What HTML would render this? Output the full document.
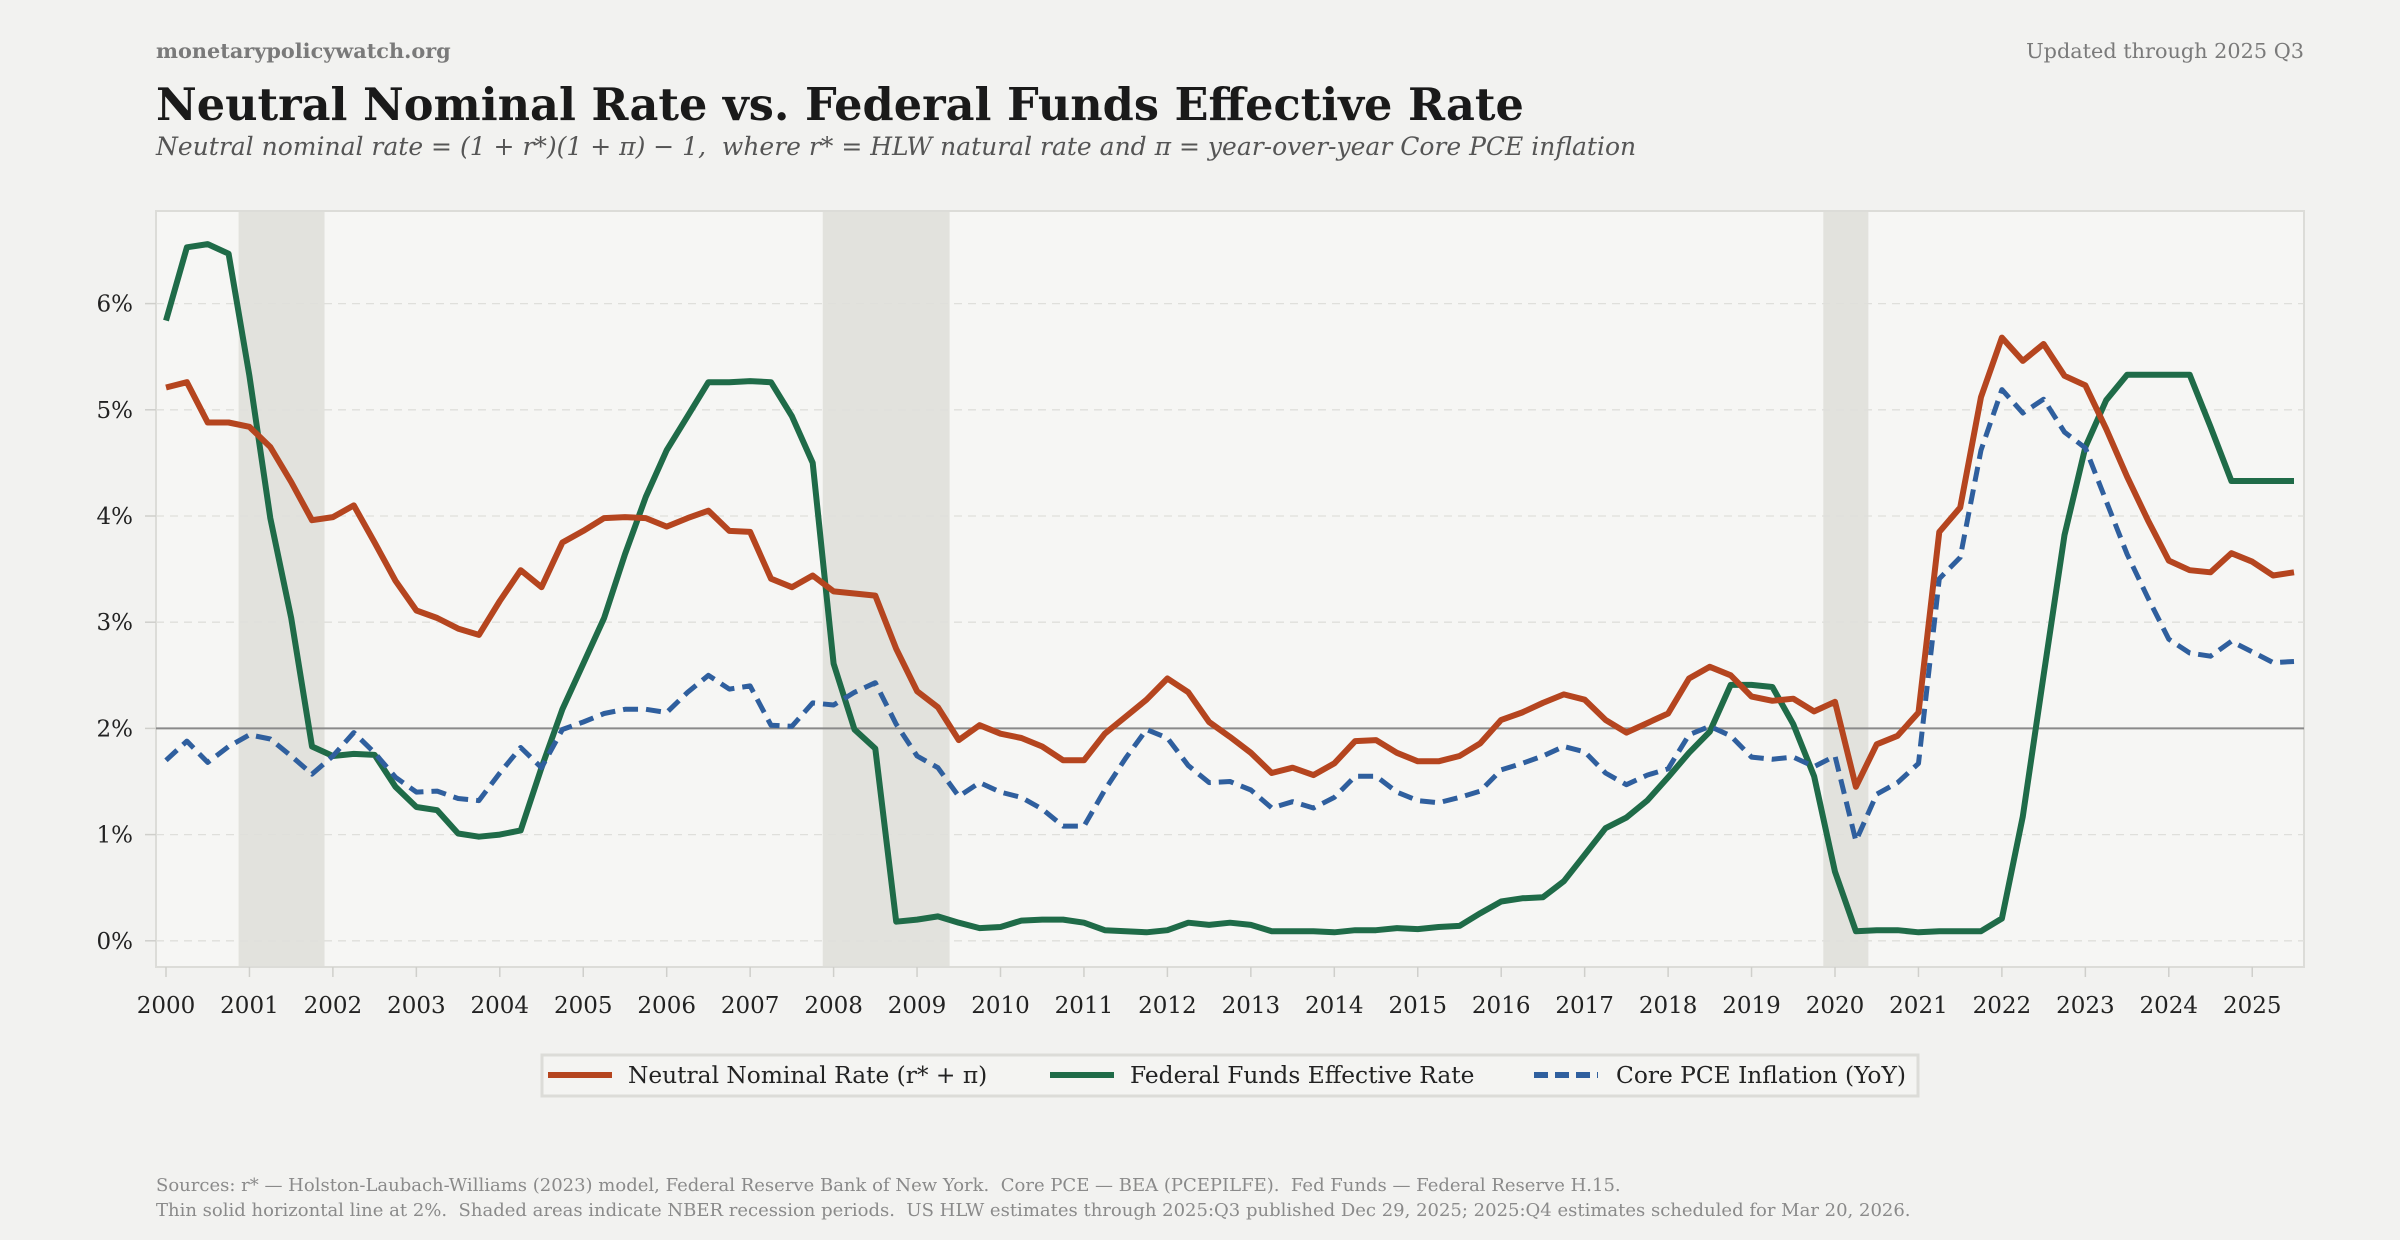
<!DOCTYPE html>
<html><head><meta charset="utf-8">
<style>
html,body{margin:0;padding:0;background:#f2f2f0;}
svg{display:block;font-family:"DejaVu Serif","Liberation Serif",serif;}
svg text{white-space:pre;}
</style></head>
<body>
<svg id="chart" width="2400" height="1240" viewBox="0 0 2400 1240" xmlns="http://www.w3.org/2000/svg" xml:space="preserve">
  <rect x="0" y="0" width="2400" height="1240" fill="#f2f2f0"/>
  <text x="156" y="58" font-size="20.8" font-weight="bold" fill="#7a7a7a">monetarypolicywatch.org</text>
  <text x="2304" y="58" font-size="20.8" fill="#7a7a7a" text-anchor="end">Updated through 2025 Q3</text>
  <text x="156" y="120" font-size="44.6" font-weight="bold" fill="#1a1a1a">Neutral Nominal Rate vs. Federal Funds Effective Rate</text>
  <text x="156" y="155" font-size="25" font-style="italic" fill="#555">Neutral nominal rate = (1 + r*)(1 + π) − 1,  where r* = HLW natural rate and π = year-over-year Core PCE inflation</text>
  <rect x="156" y="211" width="2148" height="756" fill="#f6f6f4" stroke="#dcdcd8" stroke-width="2"/>
  <g id="bands"></g>
  <g id="grid"></g>
  <g id="series"></g>
  <g id="axes"></g>
  <g>
    <rect x="542" y="1055" width="1376" height="41" fill="#f4f4f2" stroke="#dcdcd8" stroke-width="3"/>
    <line x1="548" y1="1075" x2="612" y2="1075" stroke="#b5451f" stroke-width="6"/>
    <text x="628" y="1083" font-size="23.3" fill="#222">Neutral Nominal Rate (r* + π)</text>
    <line x1="1050" y1="1075" x2="1114" y2="1075" stroke="#1f6b48" stroke-width="6"/>
    <text x="1130" y="1083" font-size="23.3" fill="#222">Federal Funds Effective Rate</text>
    <line x1="1534" y1="1075" x2="1598" y2="1075" stroke="#2f5f9e" stroke-width="6" stroke-dasharray="14,7"/>
    <text x="1616" y="1083" font-size="23.3" fill="#222">Core PCE Inflation (YoY)</text>
  </g>
  <text x="156" y="1191" font-size="18" fill="#8a8a8a">Sources: r* — Holston-Laubach-Williams (2023) model, Federal Reserve Bank of New York.  Core PCE — BEA (PCEPILFE).  Fed Funds — Federal Reserve H.15.</text>
  <text x="156" y="1216" font-size="18" fill="#8a8a8a">Thin solid horizontal line at 2%.  Shaded areas indicate NBER recession periods.  US HLW estimates through 2025:Q3 published Dec 29, 2025; 2025:Q4 estimates scheduled for Mar 20, 2026.</text>
</svg>
<script>
const startYear = 2000;
const neutralRate = [
 5.21,5.26,4.88,4.88, 4.84,4.65,4.32,3.96, 3.99,4.10,3.75,3.39, 3.11,3.04,2.94,2.88,
 3.20,3.49,3.33,3.75, 3.86,3.98,3.99,3.98, 3.90,3.98,4.05,3.86, 3.85,3.41,3.33,3.44,
 3.29,3.27,3.25,2.75, 2.35,2.20,1.89,2.03, 1.95,1.91,1.83,1.70, 1.70,1.95,2.11,2.27,
 2.47,2.34,2.06,1.92, 1.77,1.58,1.63,1.56, 1.67,1.88,1.89,1.77, 1.69,1.69,1.74,1.86,
 2.08,2.15,2.24,2.32, 2.27,2.08,1.96,2.05, 2.14,2.47,2.58,2.50, 2.30,2.26,2.28,2.16,
 2.25,1.45,1.85,1.93, 2.15,3.85,4.08,5.12, 5.68,5.46,5.62,5.32, 5.23,4.82,4.37,3.96,
 3.58,3.49,3.47,3.65, 3.57,3.44,3.47];
const fedFunds = [
 5.84,6.53,6.56,6.47, 5.32,3.98,3.04,1.83, 1.74,1.76,1.75,1.45, 1.26,1.23,1.01,0.98,
 1.00,1.04,1.63,2.18, 2.61,3.04,3.64,4.18, 4.62,4.94,5.26,5.26, 5.27,5.26,4.94,4.50,
 2.61,1.99,1.81,0.18, 0.20,0.23,0.17,0.12, 0.13,0.19,0.20,0.20, 0.17,0.10,0.09,0.08,
 0.10,0.17,0.15,0.17, 0.15,0.09,0.09,0.09, 0.08,0.10,0.10,0.12, 0.11,0.13,0.14,0.26,
 0.37,0.40,0.41,0.56, 0.81,1.06,1.16,1.32, 1.54,1.77,1.97,2.41, 2.41,2.39,2.04,1.55,
 0.65,0.09,0.10,0.10, 0.08,0.09,0.09,0.09, 0.21,1.17,2.50,3.82, 4.65,5.09,5.33,5.33,
 5.33,5.33,4.84,4.33, 4.33,4.33,4.33];
const corePCE = [
 1.70,1.88,1.68,1.83, 1.94,1.90,1.74,1.57, 1.74,1.96,1.77,1.54, 1.40,1.41,1.34,1.32,
 1.58,1.82,1.63,1.99, 2.06,2.14,2.18,2.18, 2.15,2.34,2.50,2.37, 2.40,2.03,2.02,2.24,
 2.22,2.34,2.43,2.04, 1.74,1.63,1.36,1.49, 1.40,1.35,1.24,1.08, 1.08,1.42,1.72,1.99,
 1.91,1.65,1.49,1.50, 1.42,1.25,1.31,1.25, 1.35,1.55,1.55,1.40, 1.32,1.30,1.35,1.41,
 1.61,1.67,1.74,1.83, 1.78,1.58,1.47,1.56, 1.62,1.94,2.02,1.93, 1.73,1.71,1.73,1.64,
 1.74,0.94,1.38,1.49, 1.67,3.41,3.61,4.62, 5.19,4.97,5.10,4.79, 4.64,4.14,3.64,3.23,
 2.84,2.71,2.68,2.82, 2.72,2.62,2.63];
const recessionStarts = [2000.87, 2007.87, 2019.86];
const recessionEnds = [2001.90, 2009.39, 2020.40];
const yTicks = [0,1,2,3,4,5,6];
const xTickYears = [2000,2001,2002,2003,2004,2005,2006,2007,2008,2009,2010,2011,2012,2013,2014,2015,2016,2017,2018,2019,2020,2021,2022,2023,2024,2025];
const refLevel = 2;

const NS = "http://www.w3.org/2000/svg";
const PL = 156, PR = 2304, PT = 211, PB = 967;
function xs(year){ return 166 + (year - 2000) * 83.45; }
function ys(v){ return 940.8 - v * 106.2; }
function mk(tag, attrs, parent){
  const e = document.createElementNS(NS, tag);
  for (const k in attrs) e.setAttribute(k, attrs[k]);
  parent.appendChild(e);
  return e;
}
const bands = document.getElementById('bands');
recessionStarts.forEach((s, i) => {
  const r = mk('rect', {x: xs(s), y: PT+1, width: xs(recessionEnds[i]) - xs(s), height: PB-PT-2, fill: '#e2e2dd'}, bands);
  
  
});
const grid = document.getElementById('grid');
const axes = document.getElementById('axes');
yTicks.forEach(t => {
  const g = mk('line', {x1: PL, x2: PR, y1: ys(t), y2: ys(t), stroke: '#dfdfdb', 'stroke-width': 1.3, 'stroke-dasharray': '8,6'}, grid);
  
  
  const tk = mk('line', {x1: PL-11, x2: PL, y1: ys(t), y2: ys(t), stroke: '#cfcfcb', 'stroke-width': 1.5}, axes);
  
  
  const lb = mk('text', {x: 133, y: ys(t) + 8, 'font-size': 23, fill: '#222', 'text-anchor': 'end'}, axes);
  lb.textContent = t + '%';
  
  
});
xTickYears.forEach(yr => {
  const tk = mk('line', {x1: xs(yr), x2: xs(yr), y1: PB, y2: PB+10, stroke: '#cfcfcb', 'stroke-width': 1.5}, axes);
  
  
  const lb = mk('text', {x: xs(yr), y: 1013, 'font-size': 23, fill: '#222', 'text-anchor': 'middle'}, axes);
  lb.textContent = yr;
  
  
});
const ref = mk('line', {x1: PL, x2: PR, y1: ys(refLevel), y2: ys(refLevel), stroke: '#8a8a8a', 'stroke-width': 2}, grid);



const series = document.getElementById('series');
function pts(arr){ return arr.map((v, i) => xs(startYear + i/4).toFixed(1) + ',' + ys(v).toFixed(1)).join(' '); }
const l1 = mk('polyline', {points: pts(fedFunds), fill: 'none', stroke: '#1f6b48', 'stroke-width': 6, 'stroke-linejoin': 'round'}, series);


const l2 = mk('polyline', {points: pts(neutralRate), fill: 'none', stroke: '#b5451f', 'stroke-width': 6, 'stroke-linejoin': 'round'}, series);


const l3 = mk('polyline', {points: pts(corePCE), fill: 'none', stroke: '#2f5f9e', 'stroke-width': 5, 'stroke-dasharray': '15,8', 'stroke-linejoin': 'round'}, series);


</script>
</body></html>
